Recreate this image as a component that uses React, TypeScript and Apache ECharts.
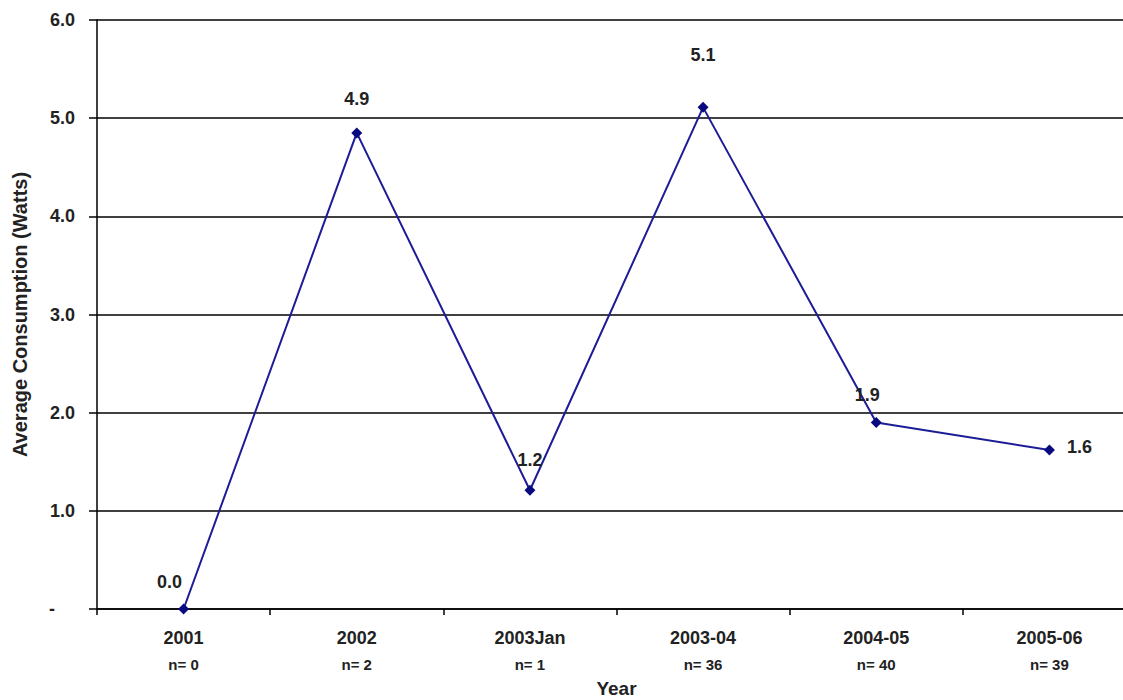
import React, { useEffect, useRef } from "react";
import * as echarts from "echarts";

const categories = ["2001", "2002", "2003Jan", "2003-04", "2004-05", "2005-06"];
const sampleSizes = ["n= 0", "n= 2", "n= 1", "n= 36", "n= 40", "n= 39"];
const values = [0.0, 4.85, 1.21, 5.11, 1.9, 1.62];
const labelTexts = ["0.0", "4.9", "1.2", "5.1", "1.9", "1.6"];

export default function App() {
  const ref = useRef<HTMLDivElement>(null);
  useEffect(() => {
    document.body.style.margin = "0";
    const chart = echarts.init(ref.current!, null, { renderer: "svg" });
    const labelCfg = [
      { position: "top", distance: 13, offset: [-14, 0] },
      { position: "top", distance: 19, offset: [0, 0] },
      { position: "top", distance: 16, offset: [0, 0] },
      { position: "top", distance: 38, offset: [0, 0] },
      { position: "top", distance: 13, offset: [-9, 0] },
      { position: "right", distance: 12, offset: [0, -3] },
    ];
    const font = "'Liberation Sans', Arial, sans-serif";
    const txt = "#222";
    chart.setOption({
      animation: false,
      backgroundColor: "#ffffff",
      grid: { left: 97, right: 0, top: 20, bottom: 91, containLabel: false, outerBoundsMode: "none" },
      xAxis: {
        type: "category",
        data: categories,
        boundaryGap: true,
        name: "Year",
        nameLocation: "middle",
        nameGap: 70,
        nameTextStyle: { fontFamily: font, fontWeight: "bold", fontSize: 19, color: txt },
        axisLine: { show: true, lineStyle: { color: "#000", width: 1.5 } },
        axisTick: { show: true, length: 6, alignWithLabel: false, lineStyle: { color: "#000", width: 1.5 } },
        axisLabel: {
          margin: 16,
          formatter: (v: string, i: number) => `{a|${v}}\n{b|${sampleSizes[i]}}`,
          rich: {
            a: { fontFamily: font, fontWeight: "bold", fontSize: 18, color: txt, lineHeight: 26 },
            b: { fontFamily: font, fontWeight: "bold", fontSize: 15, color: txt, lineHeight: 26 },
          },
        },
        splitLine: { show: false },
      },
      yAxis: {
        type: "value",
        min: 0,
        max: 6,
        interval: 1,
        name: "Average Consumption (Watts)",
        nameLocation: "middle",
        nameGap: 67,
        nameRotate: 90,
        nameTextStyle: { fontFamily: font, fontWeight: "bold", fontSize: 20, color: txt },
        axisLine: { show: true, lineStyle: { color: "#000", width: 1.5 } },
        axisTick: { show: true, length: 8, lineStyle: { color: "#000", width: 1.5 } },
        axisLabel: {
          margin: 22,
          fontFamily: font,
          fontWeight: "bold",
          fontSize: 18,
          color: txt,
          formatter: (v: number) => (v === 0 ? "{d|-}" : v.toFixed(1)),
          rich: {
            d: { fontFamily: font, fontWeight: "bold", fontSize: 18, color: txt, padding: [0, 20, 0, 0] },
          },
        },
        splitLine: { show: true, lineStyle: { color: "#000", width: 1.5 } },
      },
      series: [
        {
          type: "line",
          data: values.map((v, i) => ({
            value: v,
            label: {
              show: true,
              position: labelCfg[i].position,
              distance: labelCfg[i].distance,
              offset: labelCfg[i].offset,
              formatter: () => labelTexts[i],
              fontFamily: font,
              fontWeight: "bold",
              fontSize: 18,
              color: txt,
            },
          })),
          symbol: "diamond",
          symbolSize: 11,
          lineStyle: { color: "#1c1c96", width: 2 },
          itemStyle: { color: "#0a0a80" },
        },
      ],
    });
    return () => chart.dispose();
  }, []);
  return (
    <div style={{ width: 1123, height: 700, overflow: "hidden" }}>
      <div ref={ref} style={{ width: 1136, height: 700 }} />
    </div>
  );
}
